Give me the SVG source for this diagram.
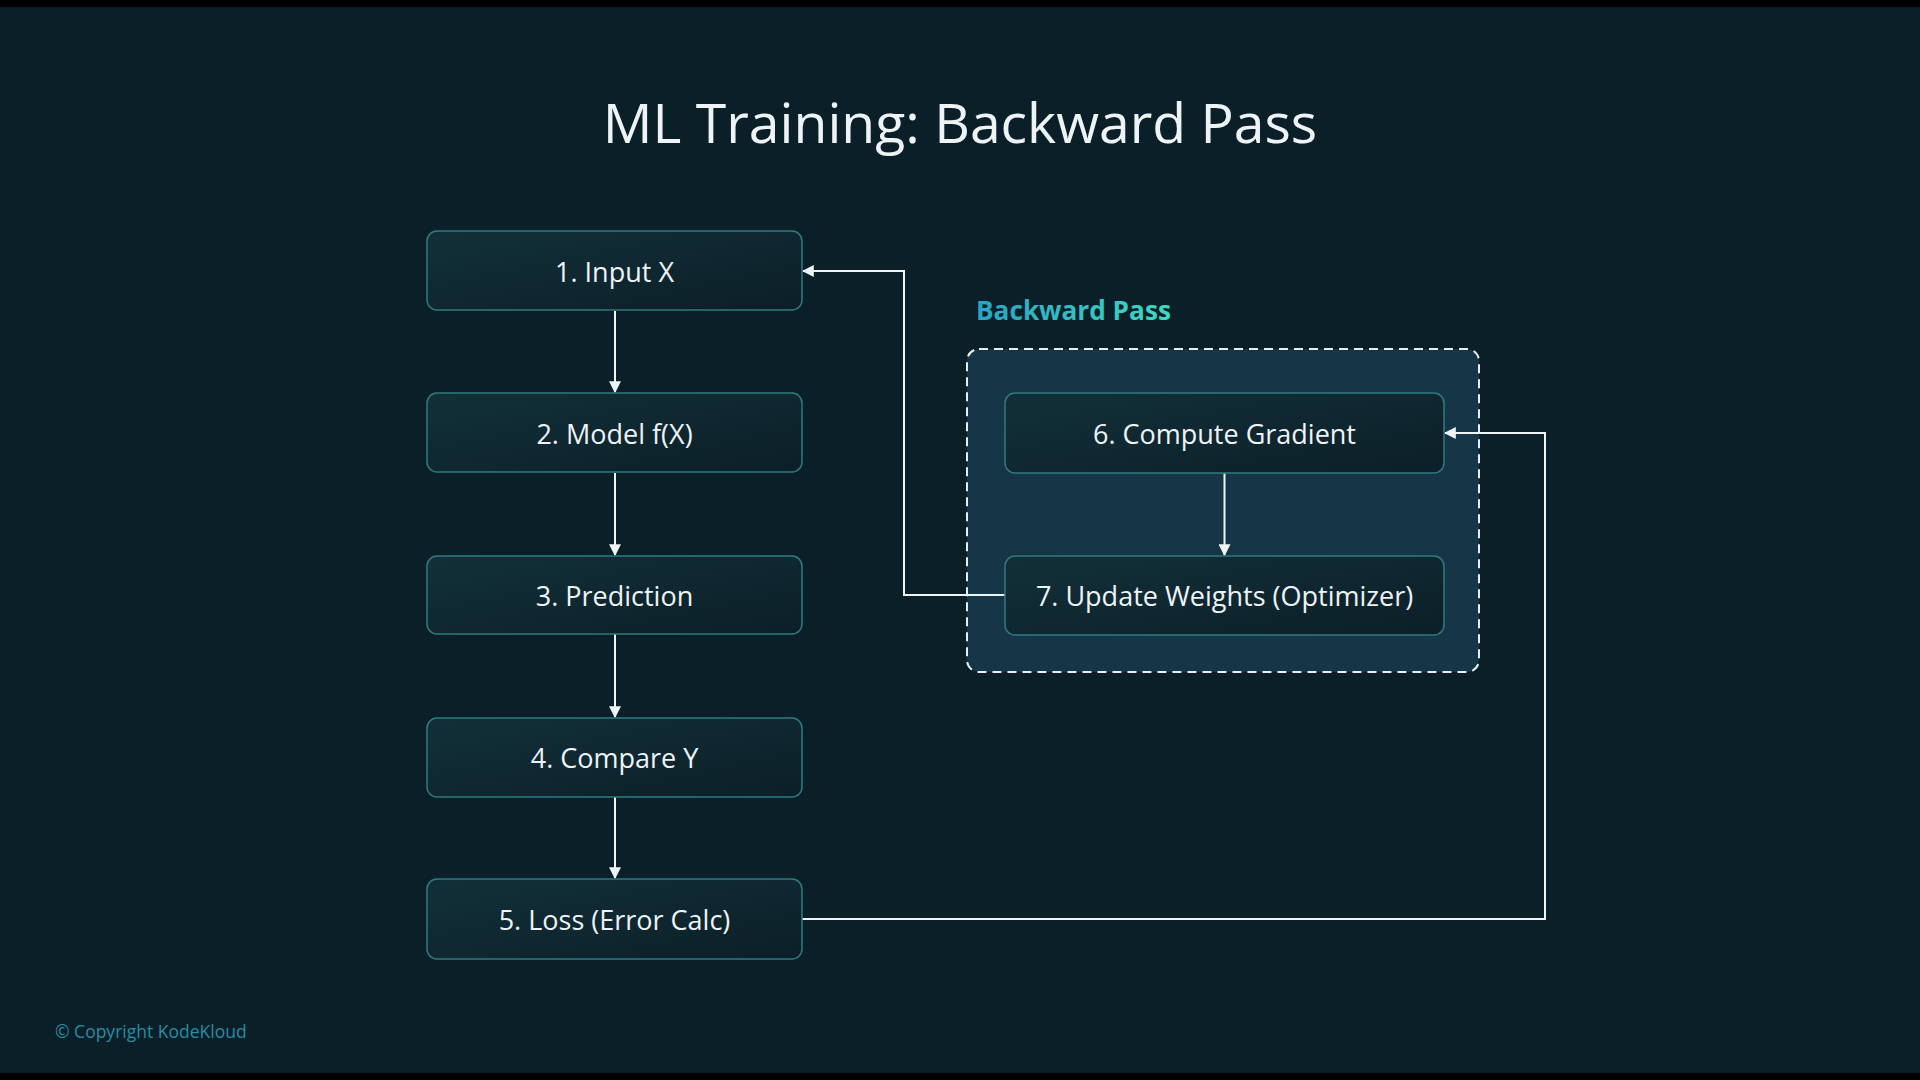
<svg xmlns="http://www.w3.org/2000/svg" width="1920" height="1080" viewBox="0 0 1920 1080">
<defs>
<linearGradient id="nodeFill" x1="0" y1="0" x2="1" y2="1">
<stop offset="0" stop-color="#123039"/>
<stop offset="1" stop-color="#0c1f28"/>
</linearGradient>
<linearGradient id="labelFill" x1="0" y1="0" x2="1" y2="0">
<stop offset="0" stop-color="#2aa3c4"/>
<stop offset="1" stop-color="#3fd9c0"/>
</linearGradient>
<marker id="arrow" viewBox="0 0 10 10" refX="9" refY="5" markerWidth="6" markerHeight="6" orient="auto-start-reverse" markerUnits="strokeWidth">
<path d="M0,0 L10,5 L0,10 z" fill="#eef3f5"/>
</marker>
<style>
.node rect{fill:url(#nodeFill);stroke:#2f7b80;stroke-width:1.5}
.node text{font-family:"Open Sans","Noto Sans","DejaVu Sans",sans-serif;font-size:27px;fill:#eef3f5;text-anchor:middle;dominant-baseline:central}
.conn{fill:none;stroke:#eef3f5;stroke-width:2;marker-end:url(#arrow)}
</style>
</defs>
<rect x="0" y="0" width="1920" height="1080" fill="#0b1f28"/>
<rect x="0" y="0" width="1920" height="7" fill="#000"/>
<rect x="0" y="1073" width="1920" height="7" fill="#000"/>
<text x="960" y="143" font-family="'Open Sans','Noto Sans',sans-serif" font-size="55.3" fill="#eef3f5" text-anchor="middle">ML Training: Backward Pass</text>
<g id="backward-pass-group">
<rect x="967" y="349" width="512" height="323" rx="12" fill="#163647" stroke="#e6eef2" stroke-width="2" stroke-dasharray="9 6"/>
<text x="976" y="320" font-family="'Open Sans','Noto Sans',sans-serif" font-size="26.2" font-weight="bold" fill="url(#labelFill)">Backward Pass</text>
</g>
<g id="connectors">
<line class="conn" x1="615" y1="311" x2="615" y2="392"/>
<line class="conn" x1="615" y1="473" x2="615" y2="555"/>
<line class="conn" x1="615" y1="634" x2="615" y2="717"/>
<line class="conn" x1="615" y1="797" x2="615" y2="878"/>
<line class="conn" x1="1224.5" y1="473" x2="1224.5" y2="555"/>
<polyline class="conn" points="802,919 1545,919 1545,433 1445,433"/>
<polyline class="conn" points="1005,595 904,595 904,271 803,271"/>
</g>
<g id="node1" class="node"><rect x="427" y="231" width="375" height="79" rx="10"/><text x="614.5" y="271">1. Input X</text></g>
<g id="node2" class="node"><rect x="427" y="393" width="375" height="79" rx="10"/><text x="614.5" y="433">2. Model f(X)</text></g>
<g id="node3" class="node"><rect x="427" y="556" width="375" height="78" rx="10"/><text x="614.5" y="595">3. Prediction</text></g>
<g id="node4" class="node"><rect x="427" y="718" width="375" height="79" rx="10"/><text x="614.5" y="757.5">4. Compare Y</text></g>
<g id="node5" class="node"><rect x="427" y="879" width="375" height="80" rx="10"/><text x="614.5" y="919">5. Loss (Error Calc)</text></g>
<g id="node6" class="node"><rect x="1005" y="393" width="439" height="80" rx="10"/><text x="1224.5" y="433">6. Compute Gradient</text></g>
<g id="node7" class="node"><rect x="1005" y="556" width="439" height="79" rx="10"/><text x="1224.5" y="595">7. Update Weights (Optimizer)</text></g>
<text x="55" y="1038" font-family="'Open Sans','Noto Sans',sans-serif" font-size="17.5" fill="#2a8ca3">© Copyright KodeKloud</text>
</svg>
